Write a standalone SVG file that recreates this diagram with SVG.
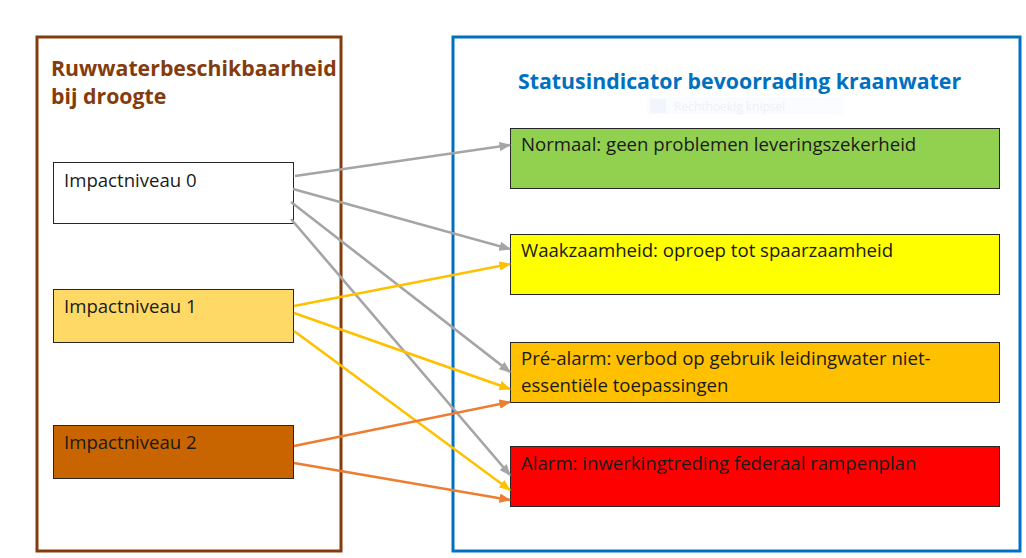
<svg xmlns="http://www.w3.org/2000/svg" width="1026" height="558" viewBox="0 0 1026 558">
<defs>
<style>
.t{font-family:"Open Sans","Liberation Sans",sans-serif;font-size:18.6px;fill:#1a1a1a}
.h{font-family:"Open Sans","Liberation Sans",sans-serif;font-size:21.3px;font-weight:bold}
.box{stroke:#262626;stroke-width:1}
.c{fill:none;stroke-width:2.6}
.g{stroke:#A5A5A5}
.y{stroke:#FFC000}
.o{stroke:#ED7D31}
</style>
<marker id="ag" viewBox="0 0 10 8" refX="9" refY="4" markerWidth="4.5" markerHeight="3.6" orient="auto"><path d="M0,0 L10,4 L0,8 Z" fill="#A5A5A5"/></marker>
<marker id="ay" viewBox="0 0 10 8" refX="9" refY="4" markerWidth="4.5" markerHeight="3.6" orient="auto"><path d="M0,0 L10,4 L0,8 Z" fill="#FFC000"/></marker>
<marker id="ao" viewBox="0 0 10 8" refX="9" refY="4" markerWidth="4.5" markerHeight="3.6" orient="auto"><path d="M0,0 L10,4 L0,8 Z" fill="#ED7D31"/></marker>
</defs>
<rect width="1026" height="558" fill="#ffffff"/>
<g id="container-left">
<rect x="37" y="37" width="304" height="514" fill="none" stroke="#843C0C" stroke-width="3"/>
<text class="h" x="51" y="76" fill="#843C0C">Ruwwaterbeschikbaarheid</text>
<text class="h" x="51" y="104" fill="#843C0C">bij droogte</text>
</g>
<g id="container-right">
<rect x="453" y="37" width="567" height="514" fill="none" stroke="#0070C0" stroke-width="3"/>
<text class="h" x="518" y="89" fill="#0070C0">Statusindicator bevoorrading kraanwater</text>
<rect x="647" y="97" width="196" height="18" fill="#fafcff"/>
<rect x="650" y="99" width="16" height="14" fill="#f2f6fc"/>
<text x="674" y="111" font-family="Open Sans, Liberation Sans, sans-serif" font-size="12" fill="#eef1f6">Rechthoekig knipsel</text>
</g>
<g id="impact0"><rect class="box" x="53.5" y="162.5" width="240" height="61" fill="#ffffff"/><text class="t" x="64" y="187">Impactniveau 0</text></g>
<g id="impact1"><rect class="box" x="53.5" y="289.5" width="240" height="53" fill="#FFD966"/><text class="t" x="64" y="313">Impactniveau 1</text></g>
<g id="impact2"><rect class="box" x="53.5" y="425.5" width="240" height="53" fill="#C96500"/><text class="t" x="64" y="449">Impactniveau 2</text></g>
<g id="normaal"><rect class="box" x="510.5" y="128.5" width="489" height="60" fill="#92D050"/><text class="t" x="521" y="151">Normaal: geen problemen leveringszekerheid</text></g>
<g id="waakzaamheid"><rect class="box" x="510.5" y="234.5" width="489" height="60" fill="#FFFF00"/><text class="t" x="521" y="257">Waakzaamheid: oproep tot spaarzaamheid</text></g>
<g id="prealarm"><rect class="box" x="510.5" y="342.5" width="489" height="60" fill="#FFC000"/><text class="t" x="521" y="365">Pré-alarm: verbod op gebruik leidingwater niet-</text><text class="t" x="521" y="392">essentiële toepassingen</text></g>
<g id="alarm"><rect class="box" x="510.5" y="446.5" width="489" height="60" fill="#FF0000"/><text class="t" x="521" y="470">Alarm: inwerkingtreding federaal rampenplan</text></g>
<g id="connectors">
<line class="c g" x1="295" y1="176" x2="510" y2="145" marker-end="url(#ag)"/>
<line class="c g" x1="293" y1="189" x2="510" y2="249" marker-end="url(#ag)"/>
<line class="c g" x1="291" y1="202" x2="510" y2="372" marker-end="url(#ag)"/>
<line class="c g" x1="291" y1="219" x2="510" y2="475" marker-end="url(#ag)"/>
<line class="c y" x1="294" y1="306" x2="510" y2="264" marker-end="url(#ay)"/>
<line class="c y" x1="294" y1="313" x2="510" y2="389" marker-end="url(#ay)"/>
<line class="c y" x1="294" y1="331" x2="510" y2="490" marker-end="url(#ay)"/>
<line class="c o" x1="294" y1="446" x2="510" y2="402" marker-end="url(#ao)"/>
<line class="c o" x1="294" y1="463" x2="510" y2="500" marker-end="url(#ao)"/>
</g>
</svg>
